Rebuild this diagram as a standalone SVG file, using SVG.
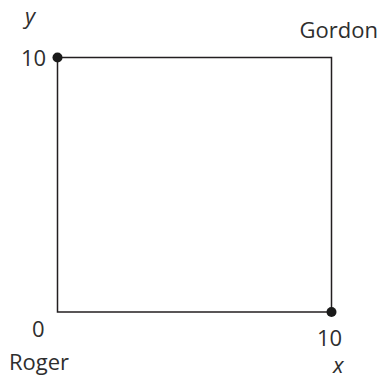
<svg xmlns="http://www.w3.org/2000/svg" width="379" height="379" viewBox="0 0 379 379">
<style>
text{font-family:"Open Sans","Liberation Sans",sans-serif;font-size:22px;fill:#2e2e2e}
.i{font-style:italic}
.dot{fill:#1a1a1a}
</style>
<rect width="379" height="379" fill="#fff"/>
<g id="connectors">
<path d="M57.5,57.5 H331.5 V312 H57.5 Z" fill="none" stroke="#231f20" stroke-width="1.5"/>
</g>
<g id="axes-labels">
<text class="i" x="25" y="24">y</text>
<text class="i" x="333" y="373">x</text>
<text x="21" y="66">10</text>
<text x="32" y="337">0</text>
<text x="317" y="346">10</text>
</g>
<g id="gordon">
<circle class="dot" cx="57.5" cy="57.5" r="5"/>
<text x="378" y="38" text-anchor="end">Gordon</text>
</g>
<g id="roger">
<circle class="dot" cx="331.5" cy="312" r="5"/>
<text x="9" y="370">Roger</text>
</g>
</svg>
